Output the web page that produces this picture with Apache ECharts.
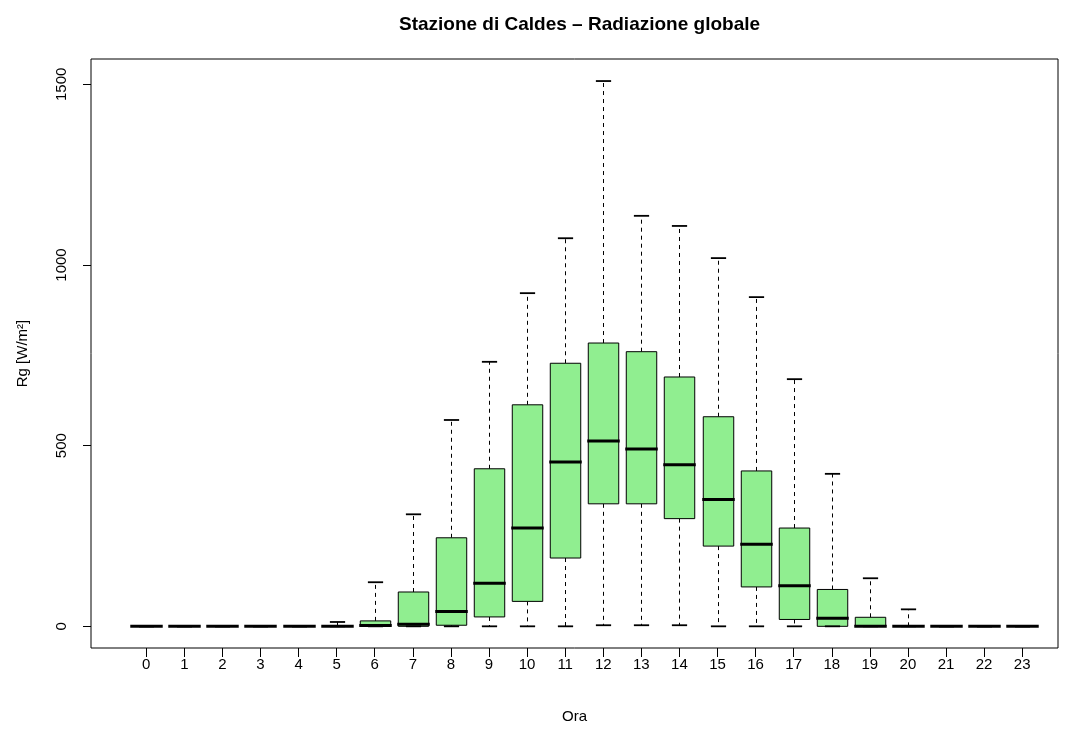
<!DOCTYPE html>
<html>
<head>
<meta charset="utf-8">
<script src="https://cdn.jsdelivr.net/npm/echarts@6/dist/echarts.min.js"></script>
<style>
html,body{margin:0;padding:0;background:#fff;}
#chart{width:1072px;height:731px;}
</style>
</head>
<body>
<div id="chart"></div>
<script>
// Data
const hours       = [0,1,2,3,4,5,6,7,8,9,10,11,12,13,14,15,16,17,18,19,20,21,22,23];
const whiskerLow  = [0,0,0,0,0,0,0,0,0,0,0,0,3,3,3,0,0,0,0,0,0,0,0,0];
const q1          = [0,0,0,0,0,0,0,0,3,26,69,189,339,339,298,222,109,19,0,0,0,0,0,0];
const median      = [0,0,0,0,0,0,2,6,41,119,272,455,513,491,447,351,227,112,22,0,0,0,0,0];
const q3          = [0,0,0,0,0,1,15,95,245,436,613,728,784,760,690,580,430,272,102,25,0,0,0,0];
const whiskerHigh = [0,0,0,0,0,12,122,310,571,732,922,1074,1509,1136,1108,1019,911,684,422,133,47,0,0,0];
const yTicks      = [0,500,1000,1500];

const boxData = hours.map((h,i)=>[h, whiskerLow[i], q1[i], median[i], q3[i], whiskerHigh[i]]);

const chart = echarts.init(document.getElementById('chart'), null, {renderer:'canvas'});
const FONT = '"Liberation Sans", Arial, Helvetica, sans-serif';

function renderItem(params, api){
  const x = api.value(0);
  const pLo  = api.coord([x, api.value(1)]);
  const pQ1  = api.coord([x, api.value(2)]);
  const pMed = api.coord([x, api.value(3)]);
  const pQ3  = api.coord([x, api.value(4)]);
  const pHi  = api.coord([x, api.value(5)]);
  const cx = Math.round(pMed[0]) + 0.5;
  const half = api.size([0.8, 0])[0] / 2;
  const capHalf = api.size([0.4, 0])[0] / 2;
  const dash = {stroke:'#000', lineWidth:1, lineDash:[4,4]};
  const solid = {stroke:'#000', lineWidth:1.8};
  return {
    type:'group',
    children:[
      {type:'line', shape:{x1:cx, y1:pQ3[1], x2:cx, y2:pHi[1]}, style:dash},
      {type:'line', shape:{x1:cx, y1:pQ1[1], x2:cx, y2:pLo[1]}, style:dash},
      {type:'rect', shape:{x:cx-half, y:pQ3[1], width:half*2, height:pQ1[1]-pQ3[1]},
        style:{fill:'#90EE90', stroke:'#000', lineWidth:1}},
      {type:'line', shape:{x1:cx-half-1, y1:pMed[1], x2:cx+half+1, y2:pMed[1]},
        style:{stroke:'#000', lineWidth:3}},
      {type:'line', shape:{x1:cx-capHalf, y1:pHi[1], x2:cx+capHalf, y2:pHi[1]}, style:solid},
      {type:'line', shape:{x1:cx-capHalf, y1:pLo[1], x2:cx+capHalf, y2:pLo[1]}, style:solid}
    ]
  };
}

chart.setOption({
  animation:false,
  backgroundColor:'#fff',
  title:{
    text:'Stazione di Caldes – Radiazione globale',
    left:574.5, top:10, textAlign:'center',
    textStyle:{fontFamily:FONT, fontWeight:'bold', fontSize:19, color:'#000'}
  },
  grid:{
    left:91, right:14, top:59, bottom:83,
    show:true, borderColor:'#000', borderWidth:1, backgroundColor:'transparent'
  },
  xAxis:{
    type:'value', min:-1.45, max:23.94,
    name:'Ora', nameLocation:'middle', nameGap:61,
    nameTextStyle:{fontFamily:FONT, fontSize:15, color:'#000'},
    axisLine:{show:false, onZero:false},
    splitLine:{show:false},
    axisTick:{show:true, length:9, customValues:hours, lineStyle:{color:'#000'}},
    axisLabel:{show:true, margin:9, customValues:hours, fontFamily:FONT, fontSize:15, color:'#000'}
  },
  yAxis:{
    type:'value', min:-60, max:1570,
    name:'Rg [W/m²]', nameLocation:'middle', nameGap:61, nameRotate:90,
    nameTextStyle:{fontFamily:FONT, fontSize:15, color:'#000'},
    axisLine:{show:false, onZero:false},
    splitLine:{show:false},
    axisTick:{show:true, length:8, customValues:yTicks, lineStyle:{color:'#000'}},
    axisLabel:{show:true, rotate:90, margin:22, customValues:yTicks, fontFamily:FONT, fontSize:15, color:'#000',
      formatter:function(v){return String(v);}}
  },
  series:[{
    type:'custom',
    renderItem:renderItem,
    encode:{x:0, y:[1,2,3,4,5]},
    data:boxData,
    clip:false
  }]
});
</script>
</body>
</html>
